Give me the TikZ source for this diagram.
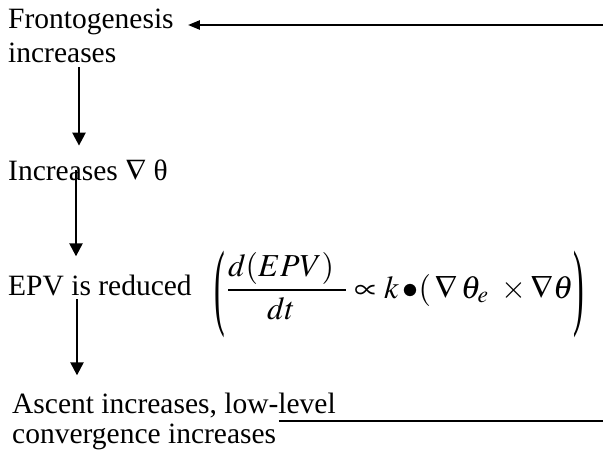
\documentclass[tikz,border=0pt]{standalone}
\usepackage{mathptmx}
\usepackage{graphicx}
\usepackage[no-math]{fontspec}
\setmainfont{Liberation Serif}
\usetikzlibrary{arrows.meta,calc}
\newcommand{\tallparen}[1]{\raisebox{-19pt}{\scalebox{1}[3]{#1}}}
\tikzset{
  lbl/.style={anchor=base west,inner sep=0pt,font=\fontsize{29.5}{34}\selectfont},
  arr/.style={line width=2.4pt,-{Triangle[length=13pt,width=13pt]}},
  harr/.style={line width=2.4pt,-{Triangle[length=12pt,width=9pt]}},
  ln/.style={line width=2.4pt}
}
\begin{document}
\begin{tikzpicture}[x=1pt,y=-1pt]
\useasboundingbox (0,0) rectangle (603,450);
\node[lbl] (f1) at (8,28) {Frontogenesis};
\node[lbl] (f2) at (8,62) {increases};
\node[lbl] (inc) at (8,180) {Increases $\nabla$ θ};
\node[lbl] (epv) at (8,295) {EPV is reduced};
\node[lbl] (eq) at (214,298) {\fontsize{32}{38}\selectfont\tallparen{(}\hspace{2pt}$\displaystyle\frac{d(EPV)\hspace{12pt}}{dt\hspace{12pt}}\propto k\,\mathord{\bullet}(\,\nabla\,\theta_e\hspace{8pt}\times\nabla\theta$\hspace{0pt}\tallparen{)}};
\node[lbl] (a1) at (12,413) {Ascent increases, low-level};
\node[lbl] (a2) at (12,443) {convergence increases};
\coordinate (r1) at (603,25);
\coordinate (r2) at (603,421);
\draw[harr] (r1) -- ([xshift=14pt]f1.east |- r1);
\draw[ln] ([xshift=-57pt,yshift=-8pt]a1.base east) -- (r2);
\draw[arr] ([xshift=71pt,yshift=-5pt]f2.base west) coordinate (e1) -- ([yshift=13pt]e1 |- inc.north);
\draw[arr] ([xshift=68pt,yshift=10pt]inc.base west) coordinate (e2) -- ([yshift=18pt]e2 |- epv.north);
\draw[arr] ([xshift=69pt,yshift=-4pt]epv.base west) coordinate (e3) -- ([yshift=17pt]e3 |- a1.north);
\end{tikzpicture}
\end{document}
